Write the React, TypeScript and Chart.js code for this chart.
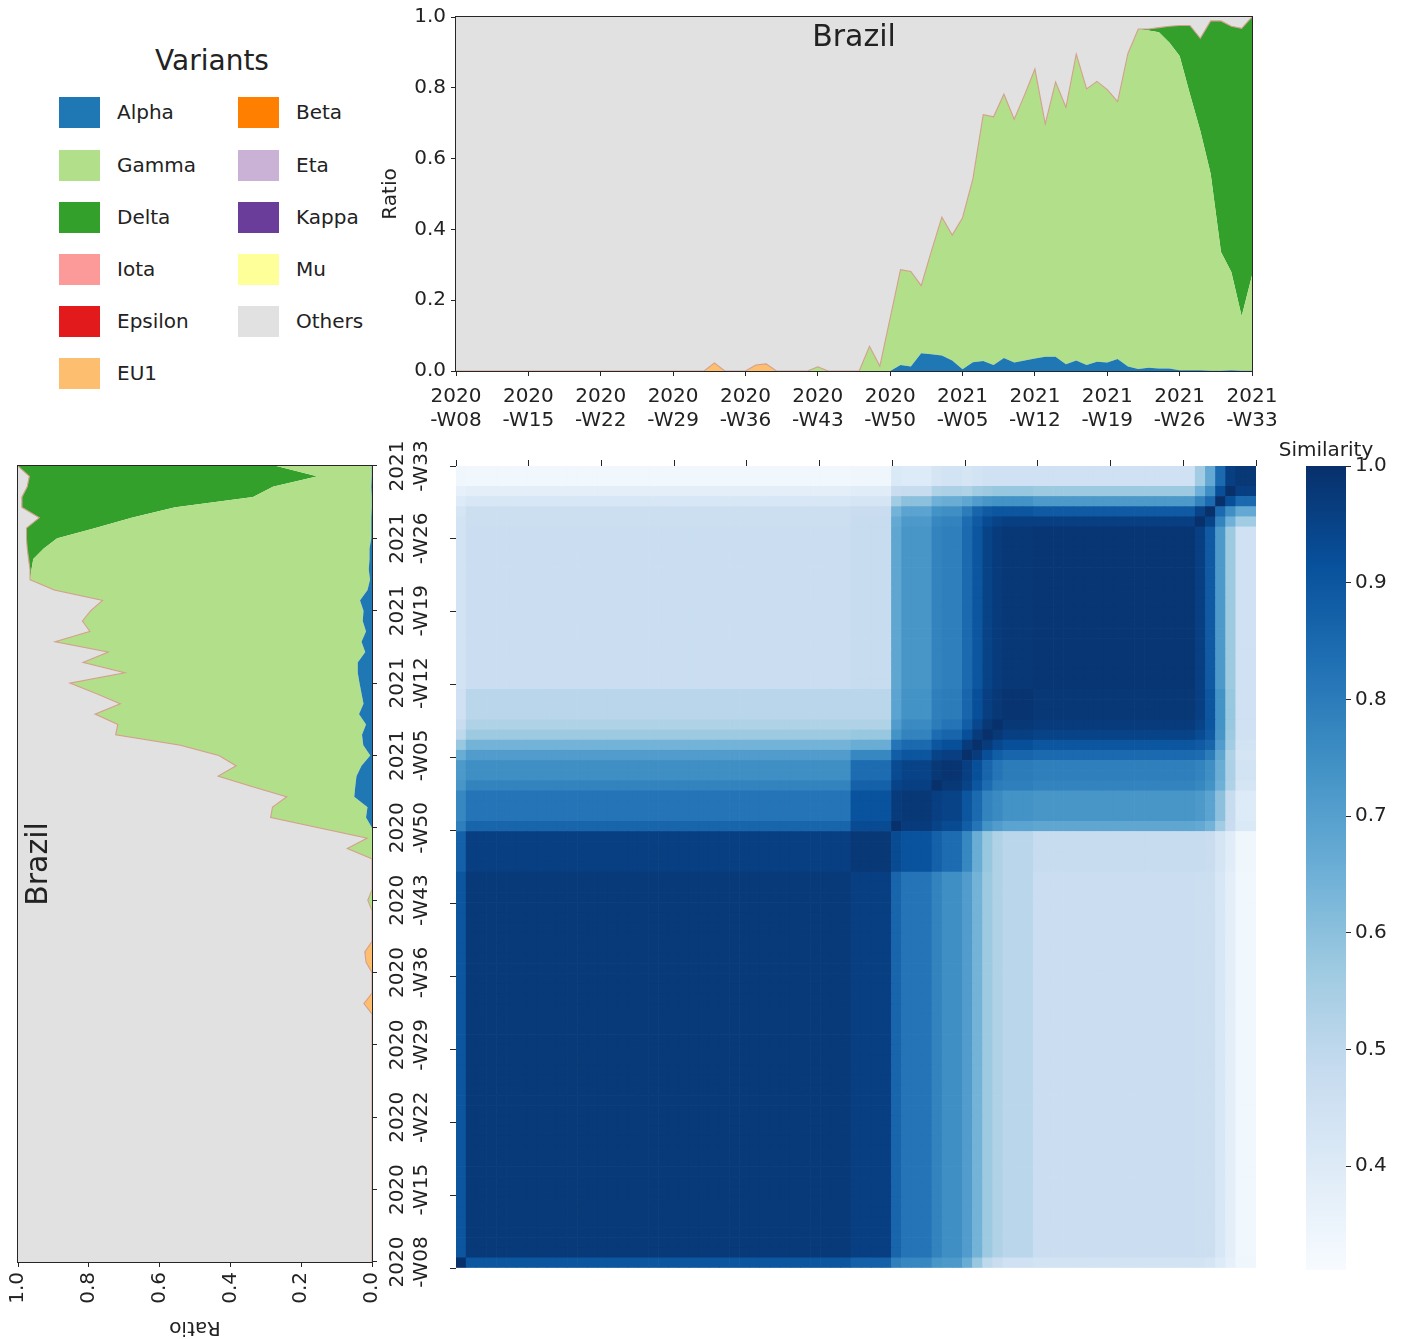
import React, { useEffect, useRef } from 'react';
import { Chart, registerables } from 'chart.js';

Chart.register(...registerables);

const FONT = "'DejaVu Sans', 'Liberation Sans', sans-serif";
const TXT = '#222222';
Chart.defaults.font.family = FONT;
Chart.defaults.color = TXT;

// ---------- categories ----------
const weeks = [
  '2020-W08','2020-W09','2020-W10','2020-W11','2020-W12','2020-W13','2020-W14','2020-W15','2020-W16','2020-W17',
  '2020-W18','2020-W19','2020-W20','2020-W21','2020-W22','2020-W23','2020-W24','2020-W25','2020-W26','2020-W27',
  '2020-W28','2020-W29','2020-W30','2020-W31','2020-W32','2020-W33','2020-W34','2020-W35','2020-W36','2020-W37',
  '2020-W38','2020-W39','2020-W40','2020-W41','2020-W42','2020-W43','2020-W44','2020-W45','2020-W46','2020-W47',
  '2020-W48','2020-W49','2020-W50','2020-W51','2020-W52','2021-W01','2021-W02','2021-W03','2021-W04','2021-W05',
  '2021-W06','2021-W07','2021-W08','2021-W09','2021-W10','2021-W11','2021-W12','2021-W13','2021-W14','2021-W15',
  '2021-W16','2021-W17','2021-W18','2021-W19','2021-W20','2021-W21','2021-W22','2021-W23','2021-W24','2021-W25',
  '2021-W26','2021-W27','2021-W28','2021-W29','2021-W30','2021-W31','2021-W32','2021-W33',
];
const tickEvery = 7;

// ---------- variant ratios (Brazil) ----------
const alpha = [
  0,0,0,0,0,0,0,0,0,0,
  0,0,0,0,0,0,0,0,0,0,
  0,0,0,0,0,0,0,0,0,0,
  0,0,0,0,0,0,0,0,0,0,
  0,0,0,0.017,0.013,0.05,0.047,0.044,0.03,0.005,
  0.025,0.028,0.017,0.037,0.024,0.03,0.035,0.04,0.04,0.019,
  0.03,0.017,0.026,0.024,0.034,0.013,0.006,0.009,0.007,0.007,
  0.002,0.002,0.002,0.001,0.001,0.002,0.001,0.001,
];
const gamma = [
  0,0,0,0,0,0,0,0,0,0,
  0,0,0,0,0,0,0,0,0,0,
  0,0,0,0,0,0,0,0,0,0,
  0,0,0,0,0,0.012,0,0,0,0,
  0.07,0.014,0.15,0.269,0.268,0.191,0.293,0.391,0.354,0.428,
  0.518,0.696,0.701,0.745,0.687,0.75,0.818,0.658,0.776,0.726,
  0.865,0.78,0.792,0.771,0.727,0.884,0.96,0.953,0.95,0.921,
  0.888,0.78,0.677,0.556,0.335,0.278,0.154,0.269,
];
const delta = [
  0,0,0,0,0,0,0,0,0,0,
  0,0,0,0,0,0,0,0,0,0,
  0,0,0,0,0,0,0,0,0,0,
  0,0,0,0,0,0,0,0,0,0,
  0,0,0,0,0,0,0,0,0,0,
  0,0,0,0,0,0,0,0,0,0,
  0,0,0,0,0,0,0,0.004,0.013,0.046,
  0.086,0.194,0.261,0.432,0.653,0.694,0.813,0.73,
];
const eu1 = [
  0,0,0,0,0,0,0,0,0,0,
  0,0,0,0,0,0,0,0,0,0,
  0,0,0,0,0,0.023,0,0,0,0.017,
  0.02,0,0,0,0,0,0,0,0,0,
  0,0,0,0,0,0,0,0,0,0,
  0,0,0,0,0,0,0,0,0,0,
  0,0,0,0,0,0,0,0,0,0,
  0,0,0,0,0,0,0,0,
];
const others = [
  1,1,1,1,1,1,1,1,1,1,
  1,1,1,1,1,1,1,1,1,1,
  1,1,1,1,1,0.977,1,1,1,0.983,
  0.98,1,1,1,1,0.988,1,1,1,1,
  0.93,0.986,0.85,0.714,0.719,0.759,0.66,0.565,0.616,0.567,
  0.457,0.276,0.282,0.218,0.289,0.22,0.147,0.302,0.184,0.255,
  0.105,0.203,0.182,0.205,0.239,0.103,0.034,0.034,0.03,0.026,
  0.024,0.024,0.06,0.011,0.011,0.026,0.032,0,
];
const noneSeen = new Array(weeks.length).fill(0); // Beta, Eta, Kappa, Iota, Mu, Epsilon: not present
const beta = noneSeen, eta = noneSeen, kappa = noneSeen, iota = noneSeen, mu = noneSeen, epsilon = noneSeen;

const variantNames = ['Alpha','Beta','Gamma','Delta','Eta','Kappa','Iota','Mu','Epsilon','EU1','Others'];
const variantColors = ['#1f78b4','#ff7f00','#b2df8a','#33a02c','#cab2d6','#6a3d9a','#fb9a99','#ffff99','#e31a1c','#fdbf6f','#e0e1e0'];
const variantData = [alpha, beta, gamma, delta, eta, kappa, iota, mu, epsilon, eu1, others];
const legendColLeft = ['Alpha','Gamma','Delta','Iota','Epsilon','EU1'];
const legendColRight = ['Beta','Eta','Kappa','Mu','Others'];
const ratioTicks = [0, 0.2, 0.4, 0.6, 0.8, 1.0];

// ---------- similarity matrix (79 x 79 weeks, block-read) ----------
const heatCellCount = 79;
const simSegStarts = [0, 1, 39, 43, 44, 47, 48, 50, 51, 52, 53, 54, 57, 73, 74, 75, 76, 77];
const simRow0 = [1.00, 0.90, 0.87, 0.79, 0.77, 0.73, 0.72, 0.66, 0.58, 0.50, 0.47, 0.45, 0.44, 0.44, 0.43, 0.40, 0.37, 0.34];
const simRow1 = [0.975, 0.96, 0.86, 0.82, 0.78, 0.75, 0.71, 0.64, 0.57, 0.53, 0.51, 0.465, 0.46, 0.46, 0.42, 0.38, 0.335];
const simRow2 = [0.98, 0.93, 0.91, 0.87, 0.84, 0.77, 0.66, 0.58, 0.53, 0.51, 0.48, 0.48, 0.47, 0.43, 0.39, 0.34];
const simRow3 = [1.00, 0.97, 0.95, 0.93, 0.88, 0.82, 0.74, 0.71, 0.69, 0.68, 0.67, 0.64, 0.56, 0.47, 0.41];
const simRow4 = [0.98, 0.96, 0.95, 0.90, 0.85, 0.78, 0.76, 0.74, 0.73, 0.72, 0.69, 0.60, 0.48, 0.40];
const simRow5 = [1.00, 0.98, 0.95, 0.90, 0.84, 0.80, 0.79, 0.78, 0.77, 0.74, 0.65, 0.53, 0.43];
const simRow6 = [0.99, 0.96, 0.92, 0.86, 0.82, 0.80, 0.79, 0.78, 0.75, 0.66, 0.54, 0.44];
const simRow7 = [1.00, 0.97, 0.92, 0.88, 0.86, 0.85, 0.84, 0.80, 0.68, 0.53, 0.43];
const simRow8 = [1.00, 0.97, 0.94, 0.92, 0.90, 0.89, 0.86, 0.71, 0.56, 0.44];
const simRow9 = [1.00, 0.98, 0.96, 0.95, 0.93, 0.89, 0.73, 0.57, 0.45];
const simRow10 = [1.00, 0.98, 0.97, 0.95, 0.90, 0.74, 0.58, 0.45];
const simRow11 = [0.99, 0.98, 0.96, 0.90, 0.74, 0.58, 0.45];
const simRow12 = [0.985, 0.96, 0.89, 0.72, 0.57, 0.45];
const simRow13 = [1.00, 0.95, 0.78, 0.65, 0.56];
const simRow14 = [1.00, 0.85, 0.75, 0.67];
const simRow15 = [1.00, 0.92, 0.85];
const simRow16 = [1.00, 0.96];
const simRow17 = [0.98];
const simRows = [simRow0, simRow1, simRow2, simRow3, simRow4, simRow5, simRow6, simRow7, simRow8,
  simRow9, simRow10, simRow11, simRow12, simRow13, simRow14, simRow15, simRow16, simRow17];
const simMin = 0.311;
const simMax = 1.0;
const colorbarTicks = [0.4, 0.5, 0.6, 0.7, 0.8, 0.9, 1.0];
const bluesStops = ['#f7fbff','#deebf7','#c6dbef','#9ecae1','#6baed6','#4292c6','#2171b5','#08519c','#08306b'];

function segOf(i: number) {
  let s = 0;
  for (let k = 0; k < simSegStarts.length; k++) if (simSegStarts[k] <= i) s = k;
  return s;
}
function sim(r: number, c: number) {
  const a = segOf(r), b = segOf(c);
  const lo = Math.min(a, b), hi = Math.max(a, b);
  return simRows[lo][hi - lo];
}
function hexToRgb(h: string) {
  return [parseInt(h.slice(1, 3), 16), parseInt(h.slice(3, 5), 16), parseInt(h.slice(5, 7), 16)];
}
function blues(v: number) {
  let t = (v - simMin) / (simMax - simMin);
  t = Math.max(0, Math.min(1, t));
  const p = t * 8;
  const i = Math.min(7, Math.floor(p));
  const f = p - i;
  const a = hexToRgb(bluesStops[i]), b = hexToRgb(bluesStops[i + 1]);
  const m = a.map((x, k) => Math.round(x + (b[k] - x) * f));
  return `rgb(${m[0]},${m[1]},${m[2]})`;
}

// ---------- plugins ----------
const framePlugin = {
  id: 'frame',
  afterDatasetsDraw(chart: any) {
    const { ctx, chartArea: a } = chart;
    ctx.save();
    ctx.strokeStyle = '#262626';
    ctx.lineWidth = 1;
    ctx.strokeRect(Math.round(a.left) - 0.5, Math.round(a.top) - 0.5,
      Math.round(a.right - a.left) + 1, Math.round(a.bottom - a.top) + 1);
    ctx.restore();
  },
};
const innerTitlePlugin = {
  id: 'innerTitle',
  afterDatasetsDraw(chart: any) {
    const { ctx, chartArea: a } = chart;
    ctx.save();
    ctx.font = `30px ${FONT}`;
    ctx.fillStyle = TXT;
    ctx.textAlign = 'center';
    ctx.textBaseline = 'alphabetic';
    ctx.fillText('Brazil', (a.left + a.right) / 2, a.top + 29);
    ctx.restore();
  },
};
const colorbarPlugin = {
  id: 'colorbarFill',
  afterDraw(chart: any) {
    const { ctx, chartArea: a } = chart;
    ctx.save();
    const g = ctx.createLinearGradient(0, a.bottom, 0, a.top);
    bluesStops.forEach((c, i) => g.addColorStop(i / 8, c));
    ctx.fillStyle = g;
    ctx.fillRect(a.left, a.top, a.right - a.left, a.bottom - a.top);
    ctx.font = `20px ${FONT}`;
    ctx.fillStyle = TXT;
    ctx.textAlign = 'center';
    ctx.textBaseline = 'alphabetic';
    ctx.fillText('Similarity', (a.left + a.right) / 2, a.top - 10);
    ctx.restore();
  },
};

// ---------- configs ----------
function stackConfig(): any {
  return {
    type: 'line',
    data: {
      labels: weeks,
      datasets: variantNames.map((name, i) => ({
        label: name,
        data: variantData[i],
        backgroundColor: variantColors[i],
        borderColor: name === 'EU1' ? '#d4a08c' : variantColors[i],
        borderWidth: name === 'EU1' ? 1.1 : 0,
        fill: i === 0 ? 'origin' : '-1',
        pointRadius: 0,
        pointHoverRadius: 0,
        tension: 0,
      })),
    },
    options: {
      responsive: false,
      animation: false,
      events: [],
      layout: { padding: { top: 16, right: 38, left: 0, bottom: 0 } },
      plugins: {
        legend: { display: false },
        tooltip: { enabled: false },
        filler: { drawTime: 'beforeDatasetsDraw' },
      },
      scales: {
        x: {
          type: 'category',
          offset: false,
          border: { display: false },
          grid: { display: true, drawOnChartArea: false, drawTicks: true, tickLength: 5, color: '#262626', lineWidth: 1 },
          afterBuildTicks: (axis: any) => { axis.ticks = axis.ticks.filter((t: any) => t.value % tickEvery === 0); },
          afterFit: (axis: any) => { axis.height = 69; },
          ticks: {
            autoSkip: false, maxRotation: 0, minRotation: 0, padding: 9, color: TXT,
            font: { size: 20, family: FONT },
            callback: (v: any) => { const w = weeks[v]; return [w.slice(0, 4), w.slice(4)]; },
          },
        },
        y: {
          stacked: true,
          min: 0, max: 1,
          border: { display: false },
          grid: { display: true, drawOnChartArea: false, drawTicks: true, tickLength: 5, color: '#262626', lineWidth: 1 },
          afterBuildTicks: (axis: any) => { axis.ticks = ratioTicks.map((v) => ({ value: v })); },
          afterFit: (axis: any) => { axis.width = 96; },
          ticks: { padding: 5, color: TXT, font: { size: 20, family: FONT }, callback: (v: any) => Number(v).toFixed(1) },
          title: { display: true, text: 'Ratio', color: TXT, font: { size: 20, family: FONT }, padding: { top: 19, bottom: 0 } },
        },
      },
    },
    plugins: [framePlugin, innerTitlePlugin],
  };
}

function heatConfig(): any {
  const idx = Array.from({ length: heatCellCount }, (_, i) => i);
  const tickPos = Array.from({ length: 12 }, (_, k) => (k * heatCellCount) / 11);
  const tickAxis = (pos: string) => ({
    type: 'linear', position: pos, min: 0, max: heatCellCount, offset: false,
    border: { display: false },
    grid: { display: true, offset: false, drawOnChartArea: false, drawTicks: true, tickLength: 6, color: '#262626', lineWidth: 1 },
    afterBuildTicks: (axis: any) => { axis.ticks = tickPos.map((v) => ({ value: v })); },
    ticks: { autoSkip: false, padding: 0, callback: () => '' },
  });
  return {
    type: 'bar',
    data: {
      datasets: idx.map((r) => ({
        data: idx.map((c) => ({ x: c + 0.5, y: [r, r + 1] })),
        backgroundColor: idx.map((c) => blues(sim(r, c))),
        borderWidth: 0,
        grouped: false,
        barPercentage: 1,
        categoryPercentage: 1,
      })),
    },
    options: {
      responsive: false,
      animation: false,
      events: [],
      layout: { padding: { top: 0, left: 0, right: 24, bottom: 22 } },
      plugins: { legend: { display: false }, tooltip: { enabled: false } },
      scales: {
        x: { ...tickAxis('top'), afterFit: (a: any) => { a.height = 36; } },
        y: { ...tickAxis('left'), afterFit: (a: any) => { a.width = 36; } },
      },
    },
  };
}

function colorbarConfig(): any {
  return {
    type: 'bar',
    data: { labels: [''], datasets: [] },
    options: {
      responsive: false,
      animation: false,
      events: [],
      layout: { padding: { top: 46, left: 41, right: 0, bottom: 30 } },
      plugins: { legend: { display: false }, tooltip: { enabled: false } },
      scales: {
        x: { display: false },
        y: {
          type: 'linear', position: 'right', min: simMin, max: simMax,
          border: { display: false },
          grid: { display: true, drawOnChartArea: false, drawTicks: true, tickLength: 5, color: '#262626', lineWidth: 1 },
          afterBuildTicks: (axis: any) => { axis.ticks = colorbarTicks.map((v) => ({ value: v })); },
          afterFit: (a: any) => { a.width = 59; },
          ticks: { padding: 4, color: TXT, font: { size: 20, family: FONT }, callback: (v: any) => Number(v).toFixed(1) },
        },
      },
    },
    plugins: [colorbarPlugin],
  };
}

// ---------- components ----------
function ChartCanvas({ make, width, height, style }: { make: () => any; width: number; height: number; style: any }) {
  const ref = useRef<HTMLCanvasElement | null>(null);
  useEffect(() => {
    if (!ref.current) return;
    const chart = new Chart(ref.current, make());
    return () => chart.destroy();
  }, []);
  return <canvas ref={ref} width={width} height={height} style={{ position: 'absolute', width, height, ...style }} />;
}

function Legend() {
  const rowY = [112, 165, 217, 269, 321, 373];
  const item = (name: string, row: number, boxLeft: number, textLeft: number) => {
    const color = variantColors[variantNames.indexOf(name)];
    return (
      <React.Fragment key={name}>
        <div style={{ position: 'absolute', left: boxLeft, top: rowY[row] - 15.5, width: 41, height: 31, background: color }} />
        <div style={{ position: 'absolute', left: textLeft, top: rowY[row] - 13, height: 26, lineHeight: '26px', fontSize: 20, color: TXT, whiteSpace: 'nowrap' }}>{name}</div>
      </React.Fragment>
    );
  };
  return (
    <>
      <div style={{ position: 'absolute', left: 112, width: 200, top: 44, textAlign: 'center', fontSize: 28, lineHeight: '34px', color: TXT }}>Variants</div>
      {legendColLeft.map((n, i) => item(n, i, 59, 117))}
      {legendColRight.map((n, i) => item(n, i, 238, 296))}
    </>
  );
}

export default function App() {
  return (
    <div style={{ position: 'absolute', left: 0, top: 0, width: 1405, height: 1339, overflow: 'hidden', background: '#ffffff', fontFamily: FONT }}>
      <Legend />
      <ChartCanvas make={stackConfig} width={930} height={440} style={{ left: 360, top: 0 }} />
      <ChartCanvas make={stackConfig} width={930} height={440}
        style={{ left: 1, top: 1358, transform: 'rotate(-90deg)', transformOrigin: '0 0' }} />
      <ChartCanvas make={heatConfig} width={860} height={860} style={{ left: 420, top: 430 }} />
      <ChartCanvas make={colorbarConfig} width={140} height={880} style={{ left: 1265, top: 420 }} />
    </div>
  );
}
